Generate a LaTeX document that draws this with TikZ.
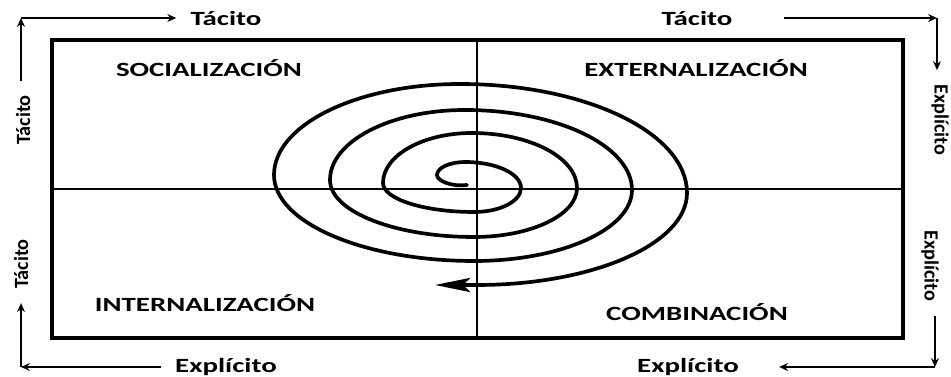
\documentclass[tikz,border=0pt]{standalone}
\usepackage{fontspec}
\setmainfont{Carlito}
\newfontfamily\widefont[FakeStretch=1.43]{Carlito}
\usetikzlibrary{arrows.meta, positioning, calc}
\tikzset{
    quadlabel/.style={font=\widefont\bfseries\fontsize{11.5}{14}\selectfont, inner sep=0pt},
    toplabel/.style={font=\widefont\bfseries\fontsize{11.5}{14}\selectfont, inner sep=8pt},
    sidelabel/.style={font=\bfseries\fontsize{11.5}{14}\selectfont, inner sep=8pt},
    frame/.style={line width=1.8pt, black},
    axis/.style={line width=1.3pt, black},
    spiral/.style={line width=2.1pt, line cap=round, -{Stealth[length=20pt, width=8pt, inset=4pt]}},
    arrow/.style={-{Stealth[length=5pt, width=4.5pt]}, line width=1.3pt},
}

\begin{document}
\begin{tikzpicture}[x=0.02cm, y=0.02cm]
\useasboundingbox (0,0) rectangle (951,377);

% Frame and axes
\coordinate (box-sw) at (52,39);
\coordinate (box-ne) at (903,337);
\coordinate (mid) at (477,188);
\draw[frame] (box-sw) rectangle (box-ne);
\draw[axis] (mid |- box-sw) -- (mid |- box-ne);
\draw[axis] (mid -| box-sw) -- (mid -| box-ne);

% Quadrant labels
\node[quadlabel] (soc) at (209,309) {SOCIALIZACIÓN};
\node[quadlabel] (ext) at (696,309) {EXTERNALIZACIÓN};
\node[quadlabel] (int) at (205,74) {INTERNALIZACIÓN};
\node[quadlabel] (com) at (697,65) {COMBINACIÓN};

% Spiral
\draw[spiral] (467,192) .. controls (452,190) and (437,196) .. (437,202)
    arc[start angle=180, end angle=90, x radius=28, y radius=13]
    arc[start angle=90, end angle=0, x radius=56, y radius=26]
    arc[start angle=0, end angle=-90, x radius=47, y radius=24]
    arc[start angle=-90, end angle=-180, x radius=91, y radius=29]
    arc[start angle=180, end angle=90, x radius=89, y radius=50]
    arc[start angle=90, end angle=0, x radius=105, y radius=55]
    arc[start angle=0, end angle=-90, x radius=103, y radius=49]
    arc[start angle=-90, end angle=-180, x radius=144, y radius=57]
    arc[start angle=180, end angle=90, x radius=135, y radius=70]
    arc[start angle=90, end angle=0, x radius=167, y radius=80]
    arc[start angle=0, end angle=-90, x radius=158, y radius=71]
    arc[start angle=-90, end angle=-180, x radius=200, y radius=86]
    arc[start angle=180, end angle=90, x radius=186, y radius=91]
    arc[start angle=90, end angle=0, x radius=227, y radius=109]
    arc[start angle=0, end angle=-90, x radius=210, y radius=92]
    -- (435,92);

% Outer labels
\node[toplabel] (top-tac-l) at (226,359) {Tácito};
\node[toplabel] (top-tac-r) at (697,359) {Tácito};
\node[toplabel] (bot-exp-l) at (226,10) {Explícito};
\node[toplabel] (bot-exp-r) at (688,10) {Explícito};
\node[sidelabel, rotate=90] (left-tac-t) at (23,257) {Tácito};
\node[sidelabel, rotate=90] (left-tac-b) at (21,113) {Tácito};
\node[sidelabel, rotate=-90] (right-exp-t) at (940,257) {Explícito};
\node[sidelabel, rotate=-90] (right-exp-b) at (930,111) {Explícito};

% Corners
\coordinate (tl) at (21,359);
\coordinate (tr) at (937,359);
\coordinate (br) at (935,10);
\coordinate (bl) at (21,10);

% Arrows
\draw[arrow] (left-tac-t.east -| tl) -- (tl);
\draw[arrow] (tl) -- (top-tac-l.west);
\draw[arrow] ($(top-tac-r.east)+(37,0)$) -- (tr);
\draw[arrow] (tr) -- (right-exp-t.west -| tr);
\draw[arrow] (right-exp-b.east -| br) -- (br);
\draw[arrow] (br) -- ($(bot-exp-r.east)+(26,0)$);
\draw[arrow] (bot-exp-l.west) -- (bl);
\draw[arrow] (bl) -- (left-tac-b.west -| bl);

\end{tikzpicture}
\end{document}
